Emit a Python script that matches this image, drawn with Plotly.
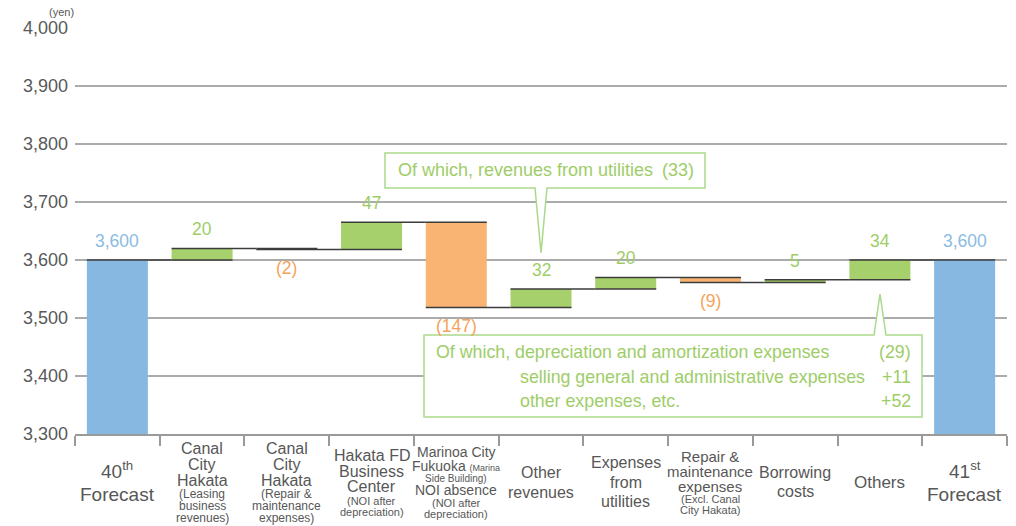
import plotly.graph_objects as go

# ---------------- data ----------------
categories = [
    "40th Forecast",
    "Canal City Hakata (Leasing business revenues)",
    "Canal City Hakata (Repair & maintenance expenses)",
    "Hakata FD Business Center",
    "Marinoa City Fukuoka NOI absence",
    "Other revenues",
    "Expenses from utilities",
    "Repair & maintenance expenses",
    "Borrowing costs",
    "Others",
    "41st Forecast",
]
measures = ["absolute", "relative", "relative", "relative", "relative", "relative",
            "relative", "relative", "relative", "relative", "total"]
changes = [3600, 20, -2, 47, -147, 32, 20, -9, 5, 34, 0]

# multi-line category labels: (text, font size)
label_lines = [
    [("40<sup>th</sup>", 19), ("Forecast", 19)],
    [("Canal", 16), ("City", 16), ("Hakata", 16), ("(Leasing", 12), ("business", 12), ("revenues)", 12)],
    [("Canal", 16), ("City", 16), ("Hakata", 16), ("(Repair &", 12), ("maintenance", 12), ("expenses)", 12)],
    [("Hakata FD", 16), ("Business", 16), ("Center", 16), ("(NOI after", 11), ("depreciation)", 11)],
    [("Marinoa City", 14), ("Fukuoka <span style='font-size:9px'>(Marina</span>", 14), ("Side Building)", 10),
     ("NOI absence", 14), ("(NOI after", 11), ("depreciation)", 11)],
    [("Other", 16), ("revenues", 16)],
    [("Expenses", 16), ("from", 16), ("utilities", 16)],
    [("Repair &", 15), ("maintenance", 15), ("expenses", 15), ("(Excl. Canal", 11), ("City Hakata)", 11)],
    [("Borrowing", 16), ("costs", 16)],
    [("Others", 17)],
    [("41<sup>st</sup>", 19), ("Forecast", 19)],
]
label_lead = [1.3, 1.0, 1.0, 1.0, 1.0, 1.25, 1.22, 1.0, 1.15, 1.0, 1.3]

callout1 = "Of which, revenues from utilities\u2002(33)"
callout2_left = ["Of which, depreciation and amortization expenses",
                 "selling general and administrative expenses",
                 "other expenses, etc."]
callout2_right = ["(29)", "+11", "+52"]

BLUE = "#86b8e2"
GREEN = "#a5d06b"
ORANGE = "#f9b474"
BLUE_T = "#8bbbe4"
GREEN_T = "#9ecd68"
ORANGE_T = "#f5a35a"
GRAY_T = "#575757"
CALLOUT = "#a9d98b"
FONT = "Liberation Sans, Arial, sans-serif"

# plot area in pixels (for decorative callouts / labels)
L, R, T, B = 75, 9, 28, 92
W, H = 1016, 526
PW, PH = W - L - R, H - T - B


def px(x):
    return (x - L) / PW


def py(y):
    return 1 - (y - T) / PH


fig = go.Figure()
fig.add_trace(go.Waterfall(
    x=categories,
    y=changes,
    measure=measures,
    increasing=dict(marker=dict(color=GREEN)),
    decreasing=dict(marker=dict(color=ORANGE)),
    totals=dict(marker=dict(color=BLUE)),
    connector=dict(mode="spanning", line=dict(color="#3c3c3c", width=1.5)),
    hoverinfo="skip",
))

# value labels computed from data
annotations = []
level = 0
for cat, m, v in zip(categories, measures, changes):
    if m == "absolute":
        level = v
        txt, col, y, sh = f"{v:,}", BLUE_T, v, 19
    elif m == "total":
        txt, col, y, sh = f"{level:,}", BLUE_T, level, 19
    else:
        level = level + v
        if v >= 0:
            txt, col, y, sh = f"{v}", GREEN_T, level, 19
        else:
            txt, col, y, sh = f"({-v})", ORANGE_T, level, -18
    annotations.append(dict(x=cat, y=y, xref="x", yref="y", text=txt, showarrow=False,
                            yshift=sh, yanchor="middle", xanchor="center",
                            font=dict(size=17.5, color=col, family=FONT)))

# category labels (vertically centred block under each category)
center_y = 482
for cat, lines, lead in zip(categories, label_lines, label_lead):
    heights = [s * lead for _, s in lines]
    total = sum(heights)
    acc = center_y - total / 2
    for (txt, s), h in zip(lines, heights):
        yc = acc + h / 2
        acc += h
        annotations.append(dict(x=cat, y=py(yc), xref="x", yref="paper", text=txt,
                                showarrow=False, yanchor="middle", xanchor="center",
                                font=dict(size=s, color=GRAY_T, family=FONT)))

# (yen) unit label
annotations.append(dict(x=px(76), y=py(20), xref="paper", yref="paper", text="(yen)",
                        showarrow=False, xanchor="right", yanchor="bottom",
                        font=dict(size=11, color=GRAY_T, family=FONT)))

# callout texts
annotations.append(dict(x=px(546), y=py(170), xref="paper", yref="paper", text=callout1,
                        showarrow=False, xanchor="center", yanchor="middle",
                        font=dict(size=18, color=GREEN_T, family=FONT)))
line_y = [352, 377, 401]
left_x = [434, 518, 518]
for t, ly, lx in zip(callout2_left, line_y, left_x):
    annotations.append(dict(x=px(lx), y=py(ly), xref="paper", yref="paper", text=t,
                            showarrow=False, xanchor="left", yanchor="middle",
                            font=dict(size=17.8, color=GREEN_T, family=FONT)))
for t, ly in zip(callout2_right, line_y):
    annotations.append(dict(x=px(913), y=py(ly), xref="paper", yref="paper", text=t,
                            showarrow=False, xanchor="right", yanchor="middle",
                            font=dict(size=17.8, color=GREEN_T, family=FONT)))


def path(points):
    return "M " + " L ".join(f"{px(x):.5f},{py(y):.5f}" for x, y in points) + " Z"


shapes = [
    dict(type="path", xref="paper", yref="paper",
         path=path([(385, 153), (705, 153), (705, 188), (547, 188), (541, 253), (535, 188), (385, 188)]),
         line=dict(color=CALLOUT, width=1.5), fillcolor="white", layer="above"),
    dict(type="path", xref="paper", yref="paper",
         path=path([(424, 335), (874, 335), (880, 294), (886, 335), (922, 335), (922, 417), (424, 417)]),
         line=dict(color=CALLOUT, width=1.5), fillcolor="white", layer="above"),
]

fig.update_layout(
    width=W, height=H,
    margin=dict(l=L, r=R, t=T, b=B, pad=0, autoexpand=False),
    plot_bgcolor="white", paper_bgcolor="white",
    showlegend=False,
    waterfallgap=0.28,
    font=dict(family=FONT, color=GRAY_T),
    annotations=annotations,
    shapes=shapes,
    xaxis=dict(
        type="category",
        showticklabels=False,
        showgrid=False,
        showline=True, linecolor="#9a9a9a", linewidth=2,
        ticks="outside", ticklen=10, tickwidth=2, tickcolor="#9a9a9a",
        tickson="boundaries",
        zeroline=False,
        fixedrange=True,
    ),
    yaxis=dict(
        range=[3300, 4000],
        dtick=100,
        tickformat=",",
        showgrid=True, gridcolor="#ababab", gridwidth=1.5,
        zeroline=False,
        showline=False,
        ticks="",
        ticklabelstandoff=6,
        tickfont=dict(size=18, color="#595959", family=FONT),
        fixedrange=True,
    ),
)

fig.write_html("out.html", config={"displayModeBar": False},
               post_script="document.body.style.margin='0';document.body.style.overflow='hidden';")
